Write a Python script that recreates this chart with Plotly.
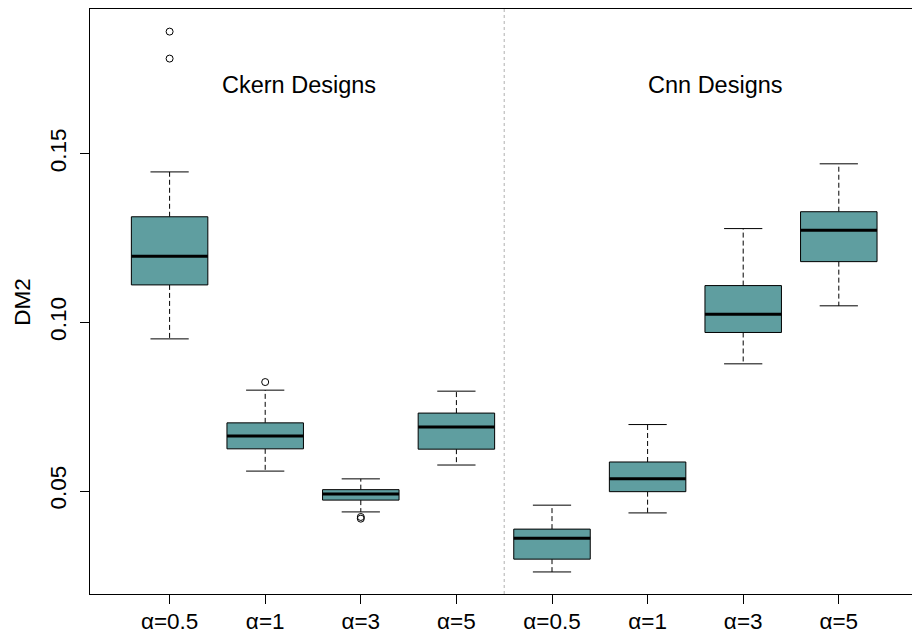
import plotly.graph_objects as go

# Five-number summaries for each design / alpha combination
groups = ["Ckern", "Ckern", "Ckern", "Ckern", "Cnn", "Cnn", "Cnn", "Cnn"]
tick_labels = ["α=0.5", "α=1", "α=3", "α=5", "α=0.5", "α=1", "α=3", "α=5"]
lower_whisker = [0.0951, 0.0559, 0.0438, 0.0577, 0.0260, 0.0435, 0.0877, 0.1049]
q1 = [0.1111, 0.0625, 0.0473, 0.0624, 0.0298, 0.0498, 0.0970, 0.1180]
median = [0.1196, 0.0663, 0.0491, 0.0690, 0.0360, 0.0536, 0.1024, 0.1273]
q3 = [0.1313, 0.0702, 0.0504, 0.0731, 0.0387, 0.0586, 0.1109, 0.1328]
upper_whisker = [0.1446, 0.0799, 0.0536, 0.0796, 0.0458, 0.0697, 0.1278, 0.1470]
outliers = [[0.1782, 0.1862], [0.0823], [0.0423, 0.0418], [], [], [], [], []]

group_titles = ["Ckern Designs", "Cnn Designs"]
title_x = [2.35, 6.71]
title_y = [0.1705, 0.1705]

FILL = "#5F9EA0"
FONT = "Arial, Liberation Sans, sans-serif"
FS_TITLE = 23.5
FS_TICK = 22.5
BOX_HALF = 0.4
CAP_HALF = 0.2

fig = go.Figure()

for i in range(len(median)):
    pos = i + 1
    # whiskers (dashed)
    fig.add_trace(go.Scatter(
        x=[pos, pos, None, pos, pos],
        y=[q3[i], upper_whisker[i], None, q1[i], lower_whisker[i]],
        mode="lines", line=dict(color="black", width=1, dash="5px,3px"),
        hoverinfo="skip", showlegend=False))
    # staples
    fig.add_trace(go.Scatter(
        x=[pos - CAP_HALF, pos + CAP_HALF, None, pos - CAP_HALF, pos + CAP_HALF],
        y=[upper_whisker[i], upper_whisker[i], None, lower_whisker[i], lower_whisker[i]],
        mode="lines", line=dict(color="black", width=1),
        hoverinfo="skip", showlegend=False))
    # box
    fig.add_trace(go.Scatter(
        x=[pos - BOX_HALF, pos + BOX_HALF, pos + BOX_HALF, pos - BOX_HALF, pos - BOX_HALF],
        y=[q1[i], q1[i], q3[i], q3[i], q1[i]],
        mode="lines", fill="toself", fillcolor=FILL,
        line=dict(color="black", width=1),
        hoverinfo="skip", showlegend=False))
    # median
    fig.add_trace(go.Scatter(
        x=[pos - BOX_HALF, pos + BOX_HALF], y=[median[i], median[i]],
        mode="lines", line=dict(color="black", width=3),
        hoverinfo="skip", showlegend=False))
    # outliers
    if outliers[i]:
        fig.add_trace(go.Scatter(
            x=[pos] * len(outliers[i]), y=outliers[i], mode="markers",
            marker=dict(symbol="circle-open", size=7, color="black", line=dict(width=1)),
            hoverinfo="skip", showlegend=False))

# separator between the two design families
n_first = groups.count("Ckern")
fig.add_shape(type="line", x0=n_first + 0.5, x1=n_first + 0.5, xref="x",
              y0=0, y1=1, yref="paper",
              line=dict(color="#b0b0b0", width=1, dash="dot"))

for t, xx, yy in zip(group_titles, title_x, title_y):
    fig.add_annotation(x=xx, y=yy, xref="x", yref="y", text=t, showarrow=False,
                       font=dict(family=FONT, size=FS_TITLE, color="black"),
                       xanchor="center", yanchor="middle")

fig.add_annotation(x=-0.0825, y=0.5, xref="paper", yref="paper", text="DM2",
                   textangle=-90, showarrow=False,
                   font=dict(family=FONT, size=FS_TICK, color="black"),
                   xanchor="center", yanchor="middle")

fig.update_layout(
    width=912, height=635,
    margin=dict(l=90, r=0, t=9, b=41, autoexpand=False),
    plot_bgcolor="white", paper_bgcolor="white",
    font=dict(family=FONT, size=FS_TICK, color="black"),
    xaxis=dict(range=[0.1674, 8.7657], tickmode="array",
               tickvals=list(range(1, len(tick_labels) + 1)), ticktext=tick_labels,
               showgrid=False, zeroline=False, showline=True, mirror=True,
               linecolor="black", linewidth=1, ticks="outside", ticklen=9,
               tickcolor="black", tickfont=dict(size=FS_TICK), automargin=False,
               ticklabelstandoff=-2),
    yaxis=dict(range=[0.019463, 0.19290], tickmode="array",
               tickvals=[0.05, 0.10, 0.15], ticktext=["0.05", "0.10", "0.15"],
               tickangle=-90, showgrid=False, zeroline=False, showline=True,
               linecolor="black", linewidth=1, ticks="outside", ticklen=9,
               tickcolor="black", tickfont=dict(size=FS_TICK), ticklabelstandoff=5,
               automargin=False),
)

fig.write_html("out.html")
